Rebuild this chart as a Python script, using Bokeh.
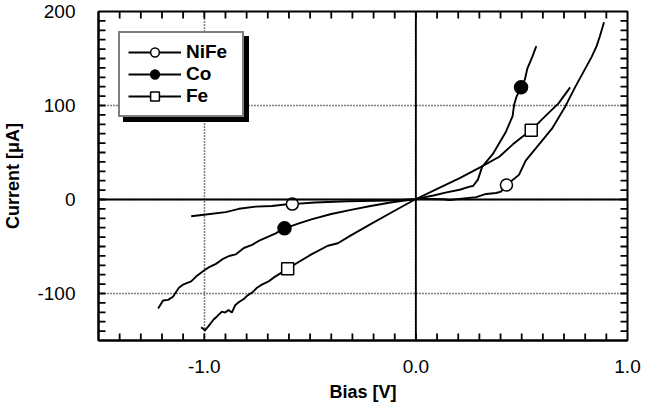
import math
from bokeh.plotting import figure
from bokeh.models import Range1d, FixedTicker, Span, Legend, LegendItem
from bokeh.embed import file_html
from bokeh.resources import INLINE

FONT = "Liberation Sans"

# ---------------- data ----------------
nife_x = [-1.062, -0.992, -0.899, -0.836, -0.758, -0.681, -0.618, -0.584, -0.478,
          -0.322, -0.136, -0.011, 0.005, 0.129, 0.160, 0.285, 0.332, 0.379, 0.402,
          0.428, 0.487, 0.519, 0.581, 0.643, 0.706, 0.752, 0.790, 0.830, 0.854,
          0.869, 0.889]
nife_y = [-17.8, -16.0, -13.4, -9.9, -7.6, -6.9, -5.3, -4.9, -3.2,
          -1.8, -1.2, 0.2, 0.8, 0.2, -0.5, 2.5, 5.9, 6.9, 8.3,
          15.4, 26.2, 41.4, 58.4, 75.3, 99.0, 119.3, 135.0, 151.5, 163.2,
          173.4, 188.6]

co_x = [-1.218, -1.195, -1.171, -1.148, -1.120, -1.101, -1.062, -1.039, -1.000,
        -0.977, -0.945, -0.914, -0.883, -0.852, -0.813, -0.774, -0.735, -0.665,
        -0.621, -0.556, -0.494, -0.400, -0.307, -0.214, -0.120, -0.011, 0.083,
        0.145, 0.207, 0.254, 0.270, 0.293, 0.313, 0.363, 0.425, 0.457, 0.464,
        0.475, 0.497, 0.515, 0.527, 0.550, 0.569]
co_y = [-115.9, -107.4, -106.8, -103.4, -93.9, -90.6, -87.1, -82.0, -75.3,
        -71.9, -68.5, -63.5, -60.1, -58.4, -51.6, -48.2, -43.1, -36.3,
        -30.7, -25.6, -21.1, -15.4, -11.0, -6.9, -3.2, 0.2, 4.3,
        7.6, 10.4, 13.7, 14.4, 21.1, 34.7, 48.2, 71.9, 88.8, 100.7,
        109.1, 119.3, 127.7, 139.6, 151.8, 163.2]

fe_x = [-1.015, -0.997, -0.979, -0.956, -0.940, -0.917, -0.901, -0.886, -0.870,
        -0.854, -0.836, -0.813, -0.797, -0.774, -0.751, -0.728, -0.696, -0.665,
        -0.606, -0.556, -0.494, -0.416, -0.369, -0.307, -0.214, -0.120, -0.011,
        0.098, 0.207, 0.308, 0.394, 0.457, 0.503, 0.545, 0.597, 0.674, 0.729]
fe_y = [-136.0, -139.1, -134.5, -127.7, -124.4, -119.3, -120.3, -117.6, -120.3,
        -112.5, -109.1, -105.8, -102.3, -99.0, -93.9, -90.6, -87.1, -82.0,
        -73.6, -66.8, -58.4, -49.2, -46.5, -38.1, -26.2, -14.4, -0.8,
        11.0, 22.8, 34.7, 45.5, 58.4, 66.8, 73.6, 85.5, 102.3, 119.3]

# marker positions on each curve
nife_mx = [-0.584, 0.428]
nife_my = [-4.9, 15.4]
co_mx = [-0.621, 0.497]
co_my = [-30.7, 119.3]
fe_mx = [-0.606, 0.545]
fe_my = [-73.6, 73.6]

series_names = ["NiFe", "Co", "Fe"]

x_ticks = [-1, 0, 1]
x_tick_labels = ["-1.0", "0.0", "1.0"]
x_minor = [round(-1.5 + 0.1 * i, 2) for i in range(1, 25)]
y_ticks = [-100, 0, 100, 200]
y_tick_labels = ["-100", "0", "100", "200"]
y_minor = list(range(-140, 200, 10))

X_MIN, X_MAX = -1.5, 1.0
Y_MIN, Y_MAX = -150, 200

# ---------------- figure ----------------
p = figure(width=641, height=404, output_backend="svg", toolbar_location=None,
           x_range=Range1d(X_MIN, X_MAX), y_range=Range1d(Y_MIN, Y_MAX),
           min_border_left=89, min_border_right=14, min_border_top=11,
           min_border_bottom=62,
           x_axis_label="Bias [V]", y_axis_label="Current [μA]")
p.background_fill_color = "white"
p.border_fill_color = "white"
p.outline_line_color = "black"
p.outline_line_width = 2

xt = FixedTicker(ticks=x_ticks, minor_ticks=[])
yt = FixedTicker(ticks=y_ticks, minor_ticks=[])


def style_axis(ax, ticker, labels):
    ax.ticker = ticker
    ax.axis_line_color = "black"
    ax.axis_line_width = 2
    ax.major_tick_line_color = None
    ax.minor_tick_line_color = None
    ax.major_label_text_font = FONT
    ax.major_label_text_font_size = "19px"
    ax.major_label_text_color = "black"
    ax.axis_label_text_font = FONT
    ax.axis_label_text_font_size = "18px"
    ax.axis_label_text_font_style = "bold"
    ax.axis_label_text_color = "black"
    ax.major_label_overrides = labels


xax = p.xaxis[0]
yax = p.yaxis[0]
style_axis(xax, xt, dict(zip(x_ticks, x_tick_labels)))
style_axis(yax, yt, dict(zip(y_ticks, y_tick_labels)))
xax.major_label_standoff = 13
xax.axis_label_standoff = 6
yax.major_label_standoff = 17
yax.axis_label_standoff = 11

for g in (p.xgrid[0], p.ygrid[0]):
    g.grid_line_color = "black"
    g.grid_line_dash = "1 2"
    g.grid_line_width = 1.5

p.add_layout(Span(location=0, dimension="width", line_color="black", line_width=1.8))
p.add_layout(Span(location=0, dimension="height", line_color="black", line_width=1.8))

# ---------------- inward tick marks on all four frame edges ----------------
TICK_LEN = 7
TICK_W = 1.8
nx, ny = len(x_minor), len(y_minor)
p.ray(x=x_minor, y=[Y_MIN] * nx, length=TICK_LEN, angle=math.pi / 2,
      length_units="screen", line_color="black", line_width=TICK_W)
p.ray(x=x_minor, y=[Y_MAX] * nx, length=TICK_LEN, angle=-math.pi / 2,
      length_units="screen", line_color="black", line_width=TICK_W)
p.ray(x=[X_MIN] * ny, y=y_minor, length=TICK_LEN, angle=0,
      length_units="screen", line_color="black", line_width=TICK_W)
p.ray(x=[X_MAX] * ny, y=y_minor, length=TICK_LEN, angle=math.pi,
      length_units="screen", line_color="black", line_width=TICK_W)

# ---------------- curves ----------------
LW = 1.9
l_nife = p.line(nife_x, nife_y, line_color="black", line_width=LW)
l_co = p.line(co_x, co_y, line_color="black", line_width=LW)
l_fe = p.line(fe_x, fe_y, line_color="black", line_width=LW)

m_nife = p.scatter(nife_mx, nife_my, marker="circle", size=12, fill_color="white",
                   line_color="black", line_width=1.5)
m_co = p.scatter(co_mx, co_my, marker="circle", size=13, fill_color="black",
                 line_color="black", line_width=1.5)
m_fe = p.scatter(fe_mx, fe_my, marker="square", size=12, fill_color="white",
                 line_color="black", line_width=1.5)

# ---------------- legend with drop shadow ----------------
legend_geom = dict(location="top_left", padding=8, spacing=0,
                   glyph_width=53, glyph_height=22, label_height=22,
                   label_width=48, label_standoff=5, border_line_width=2,
                   label_text_font=FONT, label_text_font_size="19px",
                   label_text_font_style="bold")

# shadow: same-size legend, shifted 5 px right and down, filled black
dummy = p.line([], [], line_color="black", line_alpha=0)
shadow = Legend(items=[LegendItem(label=" ", renderers=[dummy]) for _ in series_names],
                margin=25, border_line_color="black", background_fill_color="black",
                background_fill_alpha=1.0, label_text_color="black", **legend_geom)
p.add_layout(shadow)

legend = Legend(items=[
    LegendItem(label=series_names[0], renderers=[l_nife, m_nife]),
    LegendItem(label=series_names[1], renderers=[l_co, m_co]),
    LegendItem(label=series_names[2], renderers=[l_fe, m_fe]),
], margin=20, border_line_color="black", background_fill_color="white",
    background_fill_alpha=1.0, label_text_color="black", **legend_geom)
p.add_layout(legend)

open("out.html", "w").write(file_html(p, INLINE))
